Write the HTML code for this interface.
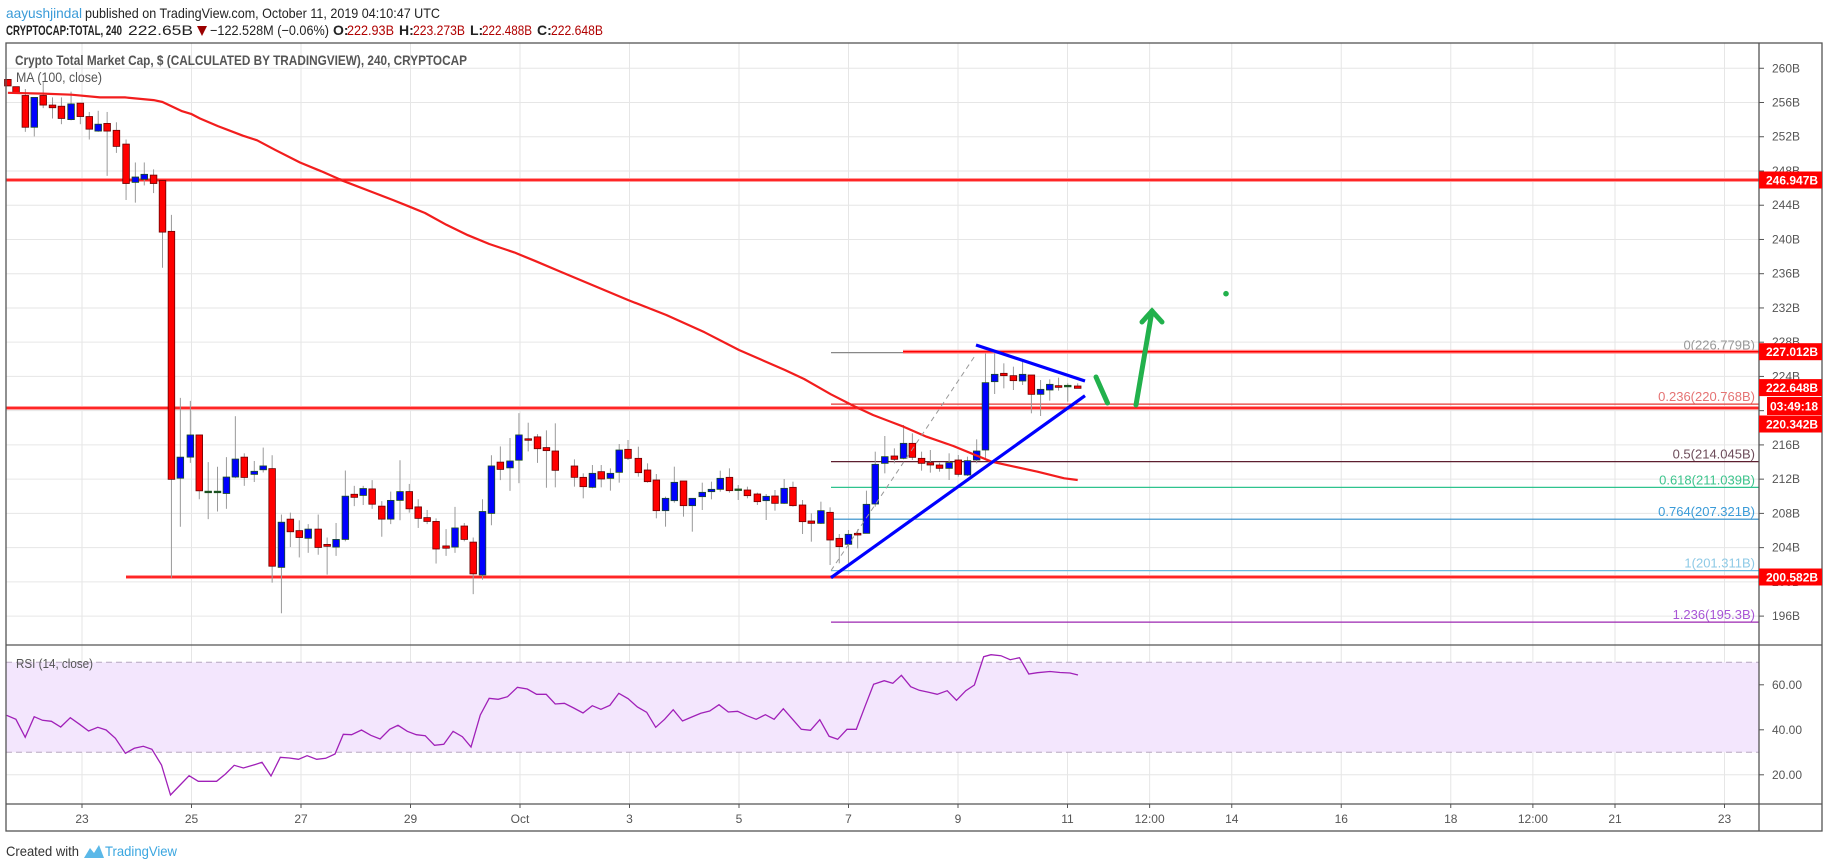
<!DOCTYPE html>
<html><head><meta charset="utf-8"><style>
html,body{margin:0;padding:0;background:#fff;}
svg{display:block;font-family:"Liberation Sans",sans-serif;}
</style></head><body>
<svg id="s" width="1828" height="868" viewBox="0 0 1828 868" xmlns="http://www.w3.org/2000/svg">
<rect width="1828" height="868" fill="#fff"/>
<g id="grid"></g>
<rect x="6" y="662.3" width="1753" height="90" fill="#f3e6fd"/>
<line x1="6" y1="662.3" x2="1759" y2="662.3" stroke="#b8a8c0" stroke-dasharray="6,4"/>
<line x1="6" y1="752.3" x2="1759" y2="752.3" stroke="#b8a8c0" stroke-dasharray="6,4"/>
<g id="fib"></g>
<g id="candles"></g>
<g id="over"></g>
<g id="axes"></g>
<!-- header -->
<text x="6" y="18" font-size="14" fill="#3a9bd8" textLength="76" lengthAdjust="spacingAndGlyphs">aayushjindal</text>
<text x="85" y="18" font-size="14" fill="#222" textLength="355" lengthAdjust="spacingAndGlyphs">published on TradingView.com, October 11, 2019 04:10:47 UTC</text>
<text x="6" y="35" font-size="14" font-weight="bold" fill="#222" textLength="116" lengthAdjust="spacingAndGlyphs">CRYPTOCAP:TOTAL, 240</text>
<text x="128" y="35" font-size="14" fill="#222" textLength="65" lengthAdjust="spacingAndGlyphs">222.65B</text>
<polygon points="197,26 207,26 202,36" fill="#9b0000"/>
<text x="210" y="35" font-size="14" fill="#222" textLength="119" lengthAdjust="spacingAndGlyphs">−122.528M (−0.06%)</text>
<text x="333" y="35" font-size="14" fill="#222" font-weight="bold">O:</text>
<text x="347" y="35" font-size="14" fill="#b00000" textLength="47" lengthAdjust="spacingAndGlyphs">222.93B</text>
<text x="399" y="35" font-size="14" fill="#222" font-weight="bold">H:</text>
<text x="413" y="35" font-size="14" fill="#b00000" textLength="52" lengthAdjust="spacingAndGlyphs">223.273B</text>
<text x="470" y="35" font-size="14" fill="#222" font-weight="bold">L:</text>
<text x="482" y="35" font-size="14" fill="#b00000" textLength="50" lengthAdjust="spacingAndGlyphs">222.488B</text>
<text x="537" y="35" font-size="14" fill="#222" font-weight="bold">C:</text>
<text x="551" y="35" font-size="14" fill="#b00000" textLength="52" lengthAdjust="spacingAndGlyphs">222.648B</text>
<text x="15" y="65" font-size="14" font-weight="bold" fill="#555" textLength="452" lengthAdjust="spacingAndGlyphs">Crypto Total Market Cap, $ (CALCULATED BY TRADINGVIEW), 240, CRYPTOCAP</text>
<text x="16" y="82" font-size="14" fill="#555" textLength="86" lengthAdjust="spacingAndGlyphs">MA (100, close)</text>
<text x="16" y="668" font-size="13" fill="#555" textLength="77" lengthAdjust="spacingAndGlyphs">RSI (14, close)</text>
<!-- footer -->
<text x="6" y="856" font-size="14" fill="#333" textLength="73" lengthAdjust="spacingAndGlyphs">Created with</text>
<path d="M84,858 L90,848 L94,853 L99,845 L104,858 Z" fill="#5bb8e8"/>
<text x="105" y="856" font-size="14" fill="#3aa6e0" textLength="72" lengthAdjust="spacingAndGlyphs">TradingView</text>
</svg>
<script>
var NS="http://www.w3.org/2000/svg";
function el(p,t,a,txt){var e=document.createElementNS(NS,t);for(var k in a)e.setAttribute(k,a[k]);if(txt!=null)e.textContent=txt;document.getElementById(p).appendChild(e);return e;}
function yp(p){return 180+(246.947-p)*8.56;}
function yr(r){return 662.3+(70-r)*2.25;}
var L=6,R=1759,T=43,SEP=645,TA=804,B=831;
// vertical grid + time labels
var days=[[-8,"23"],[-6,"25"],[-4,"27"],[-2,"29"],[0,"Oct"],[2,"3"],[4,"5"],[6,"7"],[8,"9"],[10,"11"],[11.5,"12:00"],[13,"14"],[15,"16"],[17,"18"],[18.5,"12:00"],[20,"21"],[22,"23"]];
days.forEach(function(d){var x=520+d[0]*54.75;el("grid","line",{x1:x,y1:T,x2:x,y2:TA,stroke:"#e6e6e6"});
 el("axes","line",{x1:x,y1:TA,x2:x,y2:TA+4,stroke:"#555"});
 el("axes","text",{x:x,y:823,"font-size":12,fill:"#555","text-anchor":"middle"},d[1]);});
for(var p=196;p<=260;p+=4){var y=yp(p);el("grid","line",{x1:L,y1:y,x2:R,y2:y,stroke:"#e6e6e6"});
 el("axes","line",{x1:R,y1:y,x2:R+5,y2:y,stroke:"#555"});
 el("axes","text",{x:1772,y:y+4,"font-size":12,fill:"#555"},p+"B");}
[60,40,20].forEach(function(r){var y=yr(r);el("grid","line",{x1:L,y1:y,x2:R,y2:y,stroke:"#e6e6e6"});
 el("axes","line",{x1:R,y1:y,x2:R+5,y2:y,stroke:"#555"});
 el("axes","text",{x:1772,y:y+4,"font-size":12,fill:"#555"},r+".00");});
// frame
el("axes","rect",{x:L,y:T,width:1822-L,height:B-T,fill:"none",stroke:"#555","stroke-width":1.3});
el("axes","line",{x1:R,y1:T,x2:R,y2:B,stroke:"#555","stroke-width":1.3});
el("axes","line",{x1:L,y1:SEP,x2:1822,y2:SEP,stroke:"#555","stroke-width":1.3});
el("axes","line",{x1:L,y1:TA,x2:1822,y2:TA,stroke:"#555","stroke-width":1.3});
// fib lines
var fib=[[226.779,"0(226.779B)","#888","#999"],[220.768,"0.236(220.768B)","#e53935","#e57373"],[214.045,"0.5(214.045B)","#5d1f2f","#6d4c5a"],[211.039,"0.618(211.039B)","#2ec38e","#3cc48c"],[207.321,"0.764(207.321B)","#2a8ac9","#3a9bd8"],[201.311,"1(201.311B)","#6ab9e0","#8ecae6"],[195.3,"1.236(195.3B)","#9c27b0","#a855d6"]];
fib.forEach(function(f){var y=yp(f[0]);el("fib","line",{x1:831,y1:y,x2:R,y2:y,stroke:f[2],"stroke-width":1.2});
 el("fib","text",{x:1755,y:y-3,"font-size":13,fill:f[3],"text-anchor":"end"},f[1]);});
// red S/R lines
function rl(x1,y){el("fib","line",{x1:x1,y1:y,x2:R,y2:y,stroke:"#ff9a9a","stroke-width":4});el("fib","line",{x1:x1,y1:y,x2:R,y2:y,stroke:"#f00","stroke-width":1.6});}
rl(L,180);rl(L,408);rl(126,577);rl(903,351.7);
// candles
var z3=[[22,103,120,103,120,'r'],[45,122,140,122,140,'r'],[71,145,228,128,240,'r'],[96,150,228,150,252,'b'],[121,145,170,110,178,'r'],[147,170,177,150,205,'r'],[172,173,205,150,220,'r'],[199,167,208,135,210,'b'],[225,165,200,165,220,'r'],[250,200,233,188,260,'r'],[275,220,238,185,240,'b'],[300,218,238,188,355,'r'],[326,236,278,215,295,'r'],[353,272,375,260,418,'r'],[379,358,372,320,425,'b'],[404,351,364,320,380,'b'],[430,353,375,338,400,'r'],[455,367,502,367,595,'r'],[480,500,1148,457,1405,'r'],[505,1090,1145,935,1272,'b'],[533,1032,1090,943,1105,'b'],[558,1032,1178,1032,1200,'r'],[583,1179,1182,1103,1252,'g'],[609,1179,1182,1115,1232,'g'],[634,1142,1185,1090,1225,'b'],[659,1095,1142,983,1145,'b'],[684,1090,1143,1080,1165,'r'],[712,1127,1135,1100,1155,'b'],[737,1113,1123,1065,1130,'b'],[762,1120,1375,1085,1418,'r'],[788,1260,1378,1240,1498,'b'],[813,1252,1285,1235,1325,'r'],[838,1282,1300,1255,1352,'r'],[863,1278,1302,1265,1340,'b'],[891,1278,1326,1240,1345,'r'],[916,1318,1323,1300,1397,'r'],[941,1305,1325,1262,1348,'b'],[967,1192,1305,1125,1310,'b'],[992,1187,1195,1165,1218,'r'],[1017,1172,1190,1165,1215,'b'],[1042,1173,1213,1150,1225,'r'],[1069,1218,1252,1205,1298,'r'],[1094,1203,1252,1180,1265,'b'],[1120,1180,1203,1098,1255,'b'],[1146,1180,1225,1160,1235,'r'],[1171,1220,1250,1200,1275,'r'],[1196,1248,1258,1228,1265,'r'],[1221,1258,1330,1250,1368,'r'],[1249,1322,1328,1278,1348,'r'],[1274,1275,1325,1220,1340,'b'],[1300,1270,1305,1262,1310,'r'],[1325,1312,1395,1300,1448,'r'],[1351,1232,1398,1200,1410,'b'],[1376,1113,1237,1085,1268,'b'],[1401,1103,1122,1062,1150,'r'],[1428,1100,1118,1040,1178,'b'],[1453,1032,1098,975,1158,'b'],[1479,1042,1045,1000,1075,'r'],[1505,1037,1068,1030,1105,'r'],[1530,1065,1073,1020,1170,'r']];
var z4=[[40,453,511,370,562,'r'],[90,498,532,478,560,'r'],[113,532,560,520,595,'r'],[137,520,562,495,565,'b'],[160,515,537,495,562,'r'],[184,520,535,505,572,'b'],[207,450,517,432,548,'b'],[230,448,475,420,480,'r'],[257,475,518,440,530,'r'],[281,510,545,490,548,'r'],[304,540,632,522,655,'r'],[328,595,632,590,680,'b'],[351,547,602,500,608,'b'],[375,543,617,543,650,'r'],[398,595,617,595,695,'b'],[424,577,590,548,630,'b'],[448,568,575,545,598,'b'],[471,535,568,512,575,'b'],[495,532,572,505,578,'r'],[518,567,570,555,600,'g'],[542,570,587,560,595,'r'],[568,582,605,578,615,'r'],[591,589,602,582,660,'b'],[614,588,610,570,632,'r'],[638,565,610,537,612,'b'],[661,562,617,545,620,'r'],[686,615,665,600,702,'r'],[709,663,670,640,725,'r'],[734,632,670,605,672,'b'],[758,637,720,622,795,'r'],[782,715,740,702,790,'r'],[806,703,733,690,790,'b'],[830,700,705,688,745,'r'],[853,613,700,572,700,'b'],[876,493,612,455,620,'b'],[901,470,490,408,520,'b'],[926,468,478,445,490,'r'],[950,430,475,375,478,'b'],[973,430,472,400,480,'r'],[997,475,490,455,512,'r'],[1020,488,495,450,518,'r'],[1044,495,505,488,515,'r'],[1069,488,505,460,540,'b'],[1093,480,523,465,530,'r'],[1117,482,525,470,528,'b'],[1141,453,480,418,490,'b'],[1164,248,450,160,475,'b'],[1188,223,245,160,282,'b'],[1212,220,227,190,265,'r'],[1237,227,242,200,270,'r'],[1261,223,243,185,255,'b'],[1284,225,283,225,340,'r'],[1308,268,283,240,348,'b'],[1332,253,270,238,302,'b'],[1355,257,262,233,272,'r'],[1379,256,259,250,305,'g'],[1405,258,265,250,265,'r']];
function cd(x,bt,bb,wt,wb,c){
 el("candles","line",{x1:x,y1:wt,x2:x,y2:wb,stroke:"#9a9a9a","stroke-width":1});
 var fill=c=='r'?'#ff0000':c=='b'?'#0000ff':'#1b5e20';var st=c=='r'?'#6a0000':'#1b4d20';
 var h=Math.max(bb-bt,1.5);
 el("candles","rect",{x:x-3.3,y:bt,width:6.6,height:h,fill:fill,stroke:st,"stroke-width":0.8});}
z3.forEach(function(c){cd(c[0]/2.8,c[1]/2.613+40,c[2]/2.613+40,c[3]/2.613+40,c[4]/2.613+40,c[5]);});
z4.forEach(function(c){cd(c[0]/2.613+540,c[1]/3+300,c[2]/3+300,c[3]/3+300,c[4]/3+300,c[5]);});
// MA
var ma=[];
[[22,138],[120,140],[200,143],[280,150],[350,150],[430,157],[455,162],[510,186],[535,193],[560,205],[610,225],[680,250],[720,262],[770,287],[840,320],[900,343],[960,368],[1050,400],[1100,418],[1140,433],[1190,452],[1250,483],[1310,510],[1370,533],[1440,555],[1500,578],[1568,605]].forEach(function(p){ma.push((p[0]/2.8).toFixed(1)+","+(p[1]/2.613+40).toFixed(1));});
[[230,0],[330,45],[430,97],[520,150],[640,210],[690,237],[760,283],[820,318],[870,345],[950,380],[1010,410],[1080,438],[1180,485],[1300,515],[1370,535],[1405,540]].forEach(function(p){ma.push((p[0]/2.613+540).toFixed(1)+","+(p[1]/3+300).toFixed(1));});
el("over","polyline",{points:ma.join(" "),fill:"none",stroke:"#f21d1d","stroke-width":2.2,"stroke-linejoin":"round"});
// dashed fib connector
el("over","line",{x1:831,y1:570.6,x2:975.5,y2:355,stroke:"#999","stroke-dasharray":"5,4","stroke-width":1});
// triangle lines
el("over","line",{x1:831,y1:577.7,x2:1085,y2:395.7,stroke:"#0000ff","stroke-width":3.2});
el("over","line",{x1:976,y1:345,x2:1085,y2:381,stroke:"#0000ff","stroke-width":3.2});
// green arrows
var g={stroke:"#22b14c","stroke-width":5,"stroke-linecap":"round",fill:"none"};
el("over","line",Object.assign({x1:1096,y1:377,x2:1107.5,y2:403},g));
el("over","line",Object.assign({x1:1136,y1:405,x2:1152,y2:311},g));
el("over","polyline",Object.assign({points:"1142,322 1152,311 1162,322"},g));
el("over","circle",{cx:1226,cy:293.7,r:2.8,fill:"#22b14c"});
// RSI
var rs=[];
[[20,256],[48,268],[76,322],[103,260],[128,271],[155,274],[183,291],[212,263],[240,283],[267,303],[295,292],[320,300],[348,325],[378,370],[405,355],[432,349],[458,358],[487,405],[514,495],[543,465],[570,437],[598,454],[653,454],[680,432],[706,406],[734,414],[762,406],[790,397],[817,438],[845,382],[872,384],[900,388],[926,377],[955,388],[982,385],[1010,372],[1035,313],[1060,314],[1090,300],[1118,316],[1146,327],[1175,298],[1200,286],[1228,304],[1255,314],[1282,317],[1310,346],[1338,343],[1366,304],[1394,320],[1420,351],[1448,255],[1475,205],[1502,208],[1530,200],[1560,172]].forEach(function(p){rs.push((p[0]/3.015).toFixed(1)+","+(p[1]/3+630).toFixed(1));});
[[22,177],[50,193],[79,193],[106,222],[134,220],[162,234],[190,249],[218,227],[244,238],[271,226],[298,190],[326,206],[354,231],[382,247],[409,292],[436,268],[462,239],[490,273],[518,261],[545,250],[572,243],[600,224],[628,246],[656,244],[684,257],[712,268],[740,254],[766,268],[794,236],[822,268],[848,298],[876,301],[904,269],[932,319],[958,328],[986,298],[1014,298],[1040,230],[1066,163],[1098,152],[1124,160],[1150,136],[1178,170],[1204,181],[1232,187],[1258,193],[1288,182],[1316,211],[1344,182],[1370,165],[1398,80],[1420,74],[1450,77],[1478,89],[1506,83],[1534,132],[1560,128]].forEach(function(p){rs.push((p[0]/3.015+520).toFixed(1)+","+(p[1]/3+630).toFixed(1));});
rs.push("1050,671.5","1060,672.5","1070,673","1078,675");
el("over","polyline",{points:rs.join(" "),fill:"none",stroke:"#a020b8","stroke-width":1.3});
// price boxes
function box(y,t,x0){x0=x0||1759;el("axes","rect",{x:x0,y:y-8.5,width:1822-x0,height:17,fill:"#ff0000"});
 el("axes","text",{x:1766,y:y+4.5,"font-size":12,"font-weight":"bold",fill:"#fff"},t);}
box(180,"246.947B");box(351.7,"227.012B");box(387.6,"222.648B");box(424,"220.342B");box(577,"200.582B");
el("axes","rect",{x:1767,y:397,width:55,height:18,fill:"#ff0000"});
el("axes","text",{x:1770,y:410.5,"font-size":12,"font-weight":"bold",fill:"#fff"},"03:49:18");
</script>
</body></html>
